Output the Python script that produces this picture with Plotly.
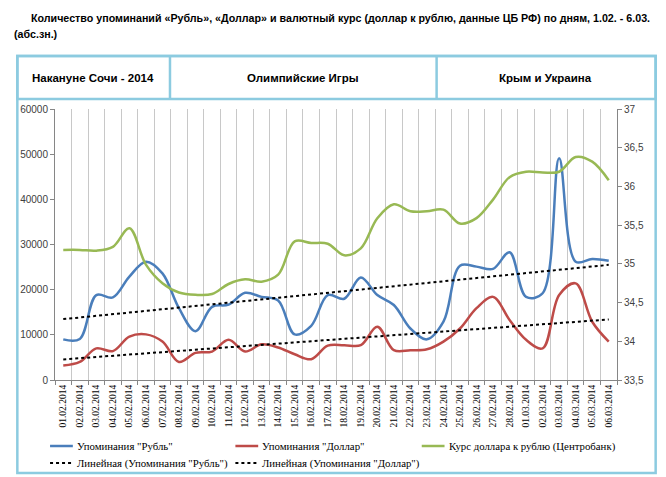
import numpy as np
import plotly.graph_objects as go

dates = ["01.02.2014","02.02.2014","03.02.2014","04.02.2014","05.02.2014","06.02.2014","07.02.2014",
         "08.02.2014","09.02.2014","10.02.2014","11.02.2014","12.02.2014","13.02.2014","14.02.2014",
         "15.02.2014","16.02.2014","17.02.2014","18.02.2014","19.02.2014","20.02.2014","21.02.2014",
         "22.02.2014","23.02.2014","24.02.2014","25.02.2014","26.02.2014","27.02.2014","28.02.2014",
         "01.03.2014","02.03.2014","03.03.2014","04.03.2014","05.03.2014","06.03.2014"]

rub = [9000, 9100, 18800, 18300, 22900, 26200, 23600, 15900, 10800, 16200, 16700, 19300, 18400, 17600,
       10100, 12000, 18800, 18000, 22700, 18800, 16600, 11400, 9000, 12900, 25300, 25100, 24600, 28300,
       18400, 19200, 49100, 26200, 26800, 26400]

usd = [3200, 4000, 7000, 6400, 9600, 10100, 8500, 4000, 6000, 6300, 8900, 6300, 7900, 7200,
       5700, 4600, 7600, 7700, 7700, 11800, 6600, 6600, 6800, 8500, 11400, 15900, 18400, 13300,
       8900, 7000, 18800, 21400, 12900, 8500]

rate = [35.18, 35.18, 35.17, 35.22, 35.46, 34.99, 34.75, 34.63, 34.60, 34.61, 34.74, 34.80, 34.77, 34.86,
        35.29, 35.27, 35.26, 35.11, 35.20, 35.59, 35.77, 35.68, 35.68, 35.70, 35.52, 35.59, 35.83, 36.12,
        36.19, 36.18, 36.19, 36.38, 36.32, 36.08]

y_left_ticks = [0, 10000, 20000, 30000, 40000, 50000, 60000]
y_right_ticks = [33.5, 34, 34.5, 35, 35.5, 36, 36.5, 37]
y_right_labels = ["33,5", "34", "34,5", "35", "35,5", "36", "36,5", "37"]

names = ['Упоминания "Рубль"', 'Упоминания "Доллар"', 'Курс доллара к рублю (Центробанк)',
         'Линейная (Упоминания "Рубль")', 'Линейная (Упоминания "Доллар")']
colors = ["#4a7ebb", "#be4b48", "#98b954", "#000000", "#000000"]
header_labels = ["Накануне Сочи - 2014", "Олимпийские Игры", "Крым и Украина"]
title_line1 = "Количество упоминаний «Рубль», «Доллар» и валютный курс (доллар к рублю, данные ЦБ РФ) по дням, 1.02. - 6.03."
title_line2 = "(абс.зн.)"

idx = np.arange(len(dates))
rub_fit = np.polyval(np.polyfit(idx, rub, 1), idx)
usd_fit = np.polyval(np.polyfit(idx, usd, 1), idx)

# page offset from default body margin
OFF = 8
W, H = 666 - OFF, 477 - OFF
# plot area in page pixels
L, R, T, B = 50, 617, 109, 380

def px(x):
    return (x - L) / (R - L)

def py(y):
    return (B - y) / (B - T)

fig = go.Figure()
fig.add_trace(go.Scatter(x=dates, y=rub, name=names[0], mode="lines",
                         line=dict(color=colors[0], width=2.5, shape="spline", smoothing=1.0)))
fig.add_trace(go.Scatter(x=dates, y=usd, name=names[1], mode="lines",
                         line=dict(color=colors[1], width=2.5, shape="spline", smoothing=1.0)))
fig.add_trace(go.Scatter(x=dates, y=rate, name=names[2], mode="lines", yaxis="y2",
                         line=dict(color=colors[2], width=2.5, shape="spline", smoothing=1.0)))
fig.add_trace(go.Scatter(x=dates, y=rub_fit, name=names[3], mode="lines",
                         line=dict(color=colors[3], width=2, dash="dot")))
fig.add_trace(go.Scatter(x=dates, y=usd_fit, name=names[4], mode="lines",
                         line=dict(color=colors[4], width=2, dash="dot")))

frame_col = "#8ccbe0"
shapes = [
    dict(type="rect", xref="paper", yref="paper", x0=px(12), x1=px(656), y0=py(473), y1=py(56),
         line=dict(color=frame_col, width=2.5), fillcolor="rgba(0,0,0,0)", layer="below"),
    dict(type="rect", xref="paper", yref="paper", x0=px(12), x1=px(656), y0=py(99), y1=py(56),
         line=dict(color=frame_col, width=2.5), fillcolor="rgba(0,0,0,0)"),
    dict(type="line", xref="paper", yref="paper", x0=px(166), x1=px(166), y0=py(99), y1=py(56),
         line=dict(color=frame_col, width=2.5)),
    dict(type="line", xref="paper", yref="paper", x0=px(435), x1=px(435), y0=py(99), y1=py(56),
         line=dict(color=frame_col, width=2.5)),
]

bold_font = "Liberation Sans, Arial, sans-serif"
annotations = [
    dict(text="<b>" + title_line1 + "</b>", xref="paper", yref="paper", x=px(24), y=py(18),
         xanchor="left", yanchor="middle", showarrow=False, font=dict(family=bold_font, size=10.7, color="#000")),
    dict(text="<b>" + title_line2 + "</b>", xref="paper", yref="paper", x=px(7), y=py(34),
         xanchor="left", yanchor="middle", showarrow=False, font=dict(family=bold_font, size=10.7, color="#000")),
]
for lab, hx in zip(header_labels, [88, 300, 545]):
    annotations.append(dict(text="<b>" + lab + "</b>", xref="paper", yref="paper", x=px(hx), y=py(78),
                            xanchor="center", yanchor="middle", showarrow=False,
                            font=dict(family="Liberation Sans, Arial, sans-serif", size=11.5, color="#000")))

# manual legend (page pixel layout)
leg_font = dict(family="Liberation Serif, Times New Roman, serif", size=10.8, color="#000")
leg_pos = [(45, 446), (232, 446), (420, 446), (45, 463), (232, 463)]
for i, (lx, ly) in enumerate(leg_pos):
    dash = "dot" if i >= 3 else "solid"
    shapes.append(dict(type="line", xref="paper", yref="paper", x0=px(lx), x1=px(lx + 23), y0=py(ly), y1=py(ly),
                       line=dict(color=colors[i], width=2.5 if i < 3 else 2, dash=dash)))
    annotations.append(dict(text=names[i], xref="paper", yref="paper", x=px(lx + 25), y=py(ly),
                            xanchor="left", yanchor="middle", showarrow=False, font=leg_font))

fig.update_layout(
    width=W, height=H,
    margin=dict(l=L - OFF, r=W - (R - OFF), t=T - OFF, b=H - (B - OFF), pad=0),
    paper_bgcolor="white", plot_bgcolor="white",
    showlegend=False,
    xaxis=dict(type="category", tickson="boundaries", showgrid=True, gridcolor="#c8c8c8", gridwidth=1,
               ticks="outside", ticklen=4, tickcolor="#868686", showline=True, linecolor="#868686",
               tickangle=-90, tickfont=dict(family="Liberation Serif, Times New Roman, serif", size=9.5, color="#000"),
               range=[-0.5, len(dates) - 0.5], zeroline=False),
    yaxis=dict(range=[0, 60000], tickvals=y_left_ticks, tickformat="d", showgrid=False, zeroline=False,
               ticks="outside", ticklen=4, tickcolor="#868686", showline=True, linecolor="#868686",
               tickfont=dict(family="Liberation Sans, Arial, sans-serif", size=10, color="#404040")),
    yaxis2=dict(range=[33.5, 37], overlaying="y", side="right", tickvals=y_right_ticks, ticktext=y_right_labels,
                showgrid=False, zeroline=False, ticks="outside", ticklen=4, tickcolor="#868686",
                showline=True, linecolor="#868686",
                tickfont=dict(family="Liberation Sans, Arial, sans-serif", size=10, color="#404040")),
    shapes=shapes, annotations=annotations,
)

fig.write_html("out.html")
